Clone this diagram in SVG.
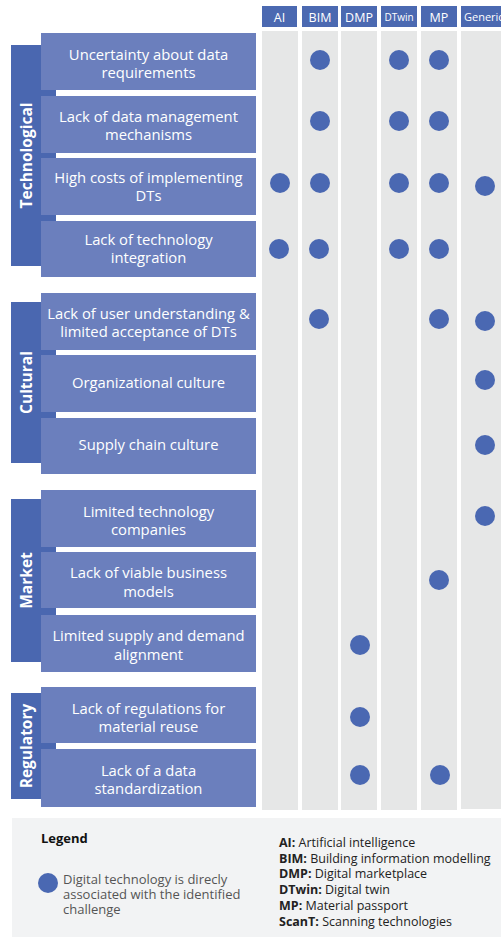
<svg xmlns="http://www.w3.org/2000/svg" width="501" height="937" viewBox="0 0 501 937">
<style>
.col{fill:#e6e7e7}
.hdr{fill:#4b69b1}
.ht{fill:#fff;font-family:"Open Sans","DejaVu Sans",sans-serif;font-size:12.5px;text-anchor:middle}
.cat{fill:#4a67b0}
.ct{fill:#fff;font-family:"Open Sans","DejaVu Sans",sans-serif;font-size:15.5px;font-weight:bold;text-anchor:middle}
.box{fill:#6b7fbd}
.bt{fill:#fff;font-family:"Open Sans","DejaVu Sans",sans-serif;font-size:14.8px;text-anchor:middle}
.dot{fill:#4a68b2}
.lg{font-family:"Open Sans","DejaVu Sans",sans-serif;font-size:12.5px}
</style>
<rect width="501" height="937" fill="#fff"/>
<g id="columns">
<rect class="col" x="262" y="31" width="36" height="779"/>
<rect class="col" x="302" y="31" width="36" height="779"/>
<rect class="col" x="341" y="31" width="36" height="779"/>
<rect class="col" x="381" y="31" width="36" height="779"/>
<rect class="col" x="421" y="31" width="36" height="779"/>
<rect class="col" x="461" y="31" width="45" height="778"/>
</g>
<g id="headers">
<rect class="hdr" x="262" y="6" width="35" height="21"/><text class="ht" x="279.5" y="21.5">AI</text>
<rect class="hdr" x="302" y="6" width="36" height="21"/><text class="ht" x="320" y="21.5">BIM</text>
<rect class="hdr" x="341" y="6" width="36" height="21"/><text class="ht" x="359" y="21.5">DMP</text>
<rect class="hdr" x="381" y="6" width="36" height="21"/><text class="ht" x="399" y="21" style="font-size:10px">DTwin</text>
<rect class="hdr" x="421" y="6" width="36" height="21"/><text class="ht" x="439" y="21.5">MP</text>
<rect class="hdr" x="461" y="6" width="45" height="21"/><text class="ht" x="464" y="21" style="font-size:11px;text-anchor:start">Generic</text>
</g>
<g id="cat-technological">
<rect class="cat" x="11" y="45" width="45" height="221"/>
<text class="ct" transform="translate(31.5,155.5) rotate(-90)">Technological</text>
</g>
<g id="cat-cultural">
<rect class="cat" x="11" y="302" width="45" height="161"/>
<text class="ct" transform="translate(31.5,382.5) rotate(-90)">Cultural</text>
</g>
<g id="cat-market">
<rect class="cat" x="11" y="499" width="45" height="163"/>
<text class="ct" transform="translate(31.5,580.5) rotate(-90)">Market</text>
</g>
<g id="cat-regulatory">
<rect class="cat" x="11" y="693" width="45" height="106"/>
<text class="ct" transform="translate(31.5,746) rotate(-90)">Regulatory</text>
</g>
<g id="t1"><rect class="box" x="41" y="33" width="215" height="57"/><text class="bt" x="148.5" y="60">Uncertainty about data</text><text class="bt" x="148.5" y="78">requirements</text></g>
<g id="t2"><rect class="box" x="41" y="96" width="215" height="57"/><text class="bt" x="148.5" y="122">Lack of data management</text><text class="bt" x="148.5" y="140">mechanisms</text></g>
<g id="t3"><rect class="box" x="41" y="158" width="215" height="57"/><text class="bt" x="148.5" y="183">High costs of implementing</text><text class="bt" x="148.5" y="201">DTs</text></g>
<g id="t4"><rect class="box" x="41" y="221" width="215" height="56"/><text class="bt" x="148.5" y="245">Lack of technology</text><text class="bt" x="148.5" y="263">integration</text></g>
<g id="c1"><rect class="box" x="41" y="293" width="215" height="57"/><text class="bt" x="148.5" y="319">Lack of user understanding &amp;</text><text class="bt" x="148.5" y="337">limited acceptance of DTs</text></g>
<g id="c2"><rect class="box" x="41" y="355" width="215" height="57"/><text class="bt" x="148.5" y="388">Organizational culture</text></g>
<g id="c3"><rect class="box" x="41" y="418" width="215" height="56"/><text class="bt" x="148.5" y="450">Supply chain culture</text></g>
<g id="m1"><rect class="box" x="41" y="490" width="215" height="57"/><text class="bt" x="148.5" y="517">Limited technology</text><text class="bt" x="148.5" y="535">companies</text></g>
<g id="m2"><rect class="box" x="41" y="552" width="215" height="56"/><text class="bt" x="148.5" y="578">Lack of viable business</text><text class="bt" x="148.5" y="597">models</text></g>
<g id="m3"><rect class="box" x="41" y="615" width="215" height="57"/><text class="bt" x="148.5" y="641">Limited supply and demand</text><text class="bt" x="148.5" y="660">alignment</text></g>
<g id="r1"><rect class="box" x="41" y="687" width="215" height="56"/><text class="bt" x="148.5" y="714">Lack of regulations for</text><text class="bt" x="148.5" y="732">material reuse</text></g>
<g id="r2"><rect class="box" x="41" y="749" width="215" height="58"/><text class="bt" x="148.5" y="776">Lack of a data</text><text class="bt" x="148.5" y="794">standardization</text></g>
<g id="dots">
<circle class="dot" cx="320" cy="60" r="10"/><circle class="dot" cx="399" cy="60" r="10"/><circle class="dot" cx="439" cy="60" r="10"/>
<circle class="dot" cx="320" cy="121" r="10"/><circle class="dot" cx="399" cy="121" r="10"/><circle class="dot" cx="439" cy="121" r="10"/>
<circle class="dot" cx="280" cy="183" r="10"/><circle class="dot" cx="320" cy="183" r="10"/><circle class="dot" cx="399" cy="183" r="10"/><circle class="dot" cx="439" cy="183" r="10"/><circle class="dot" cx="485" cy="186" r="10"/>
<circle class="dot" cx="279" cy="249" r="10"/><circle class="dot" cx="319" cy="249" r="10"/><circle class="dot" cx="399" cy="249" r="10"/><circle class="dot" cx="439" cy="249" r="10"/>
<circle class="dot" cx="319" cy="319" r="10"/><circle class="dot" cx="439" cy="319" r="10"/><circle class="dot" cx="485" cy="321" r="10"/>
<circle class="dot" cx="485" cy="380" r="10"/>
<circle class="dot" cx="485" cy="445" r="10"/>
<circle class="dot" cx="485" cy="516" r="10"/>
<circle class="dot" cx="439" cy="580" r="10"/>
<circle class="dot" cx="360" cy="645" r="10"/>
<circle class="dot" cx="360" cy="717" r="10"/>
<circle class="dot" cx="360" cy="775" r="10"/><circle class="dot" cx="440" cy="775" r="10"/>
</g>
<g id="legend">
<rect x="12" y="818" width="495" height="119" fill="#f2f3f4"/>
<text class="lg" x="41" y="843" style="font-weight:bold;font-size:13px;fill:#111">Legend</text>
<circle class="dot" cx="48" cy="883" r="10"/>
<text class="lg" fill="#555" x="63" y="884" style="font-size:13px">Digital technology is direcly</text>
<text class="lg" fill="#555" x="63" y="899" style="font-size:13px">associated with the identified</text>
<text class="lg" fill="#555" x="63" y="914" style="font-size:13px">challenge</text>
<g fill="#222" class="lg">
<text x="279" y="847"><tspan font-weight="bold">AI:</tspan> Artificial intelligence</text>
<text x="279" y="863"><tspan font-weight="bold">BIM:</tspan> Building information modelling</text>
<text x="279" y="878"><tspan font-weight="bold">DMP:</tspan> Digital marketplace</text>
<text x="279" y="894"><tspan font-weight="bold">DTwin:</tspan> Digital twin</text>
<text x="279" y="910"><tspan font-weight="bold">MP:</tspan> Material passport</text>
<text x="279" y="926"><tspan font-weight="bold">ScanT:</tspan> Scanning technologies</text>
</g>
</g>
</svg>
